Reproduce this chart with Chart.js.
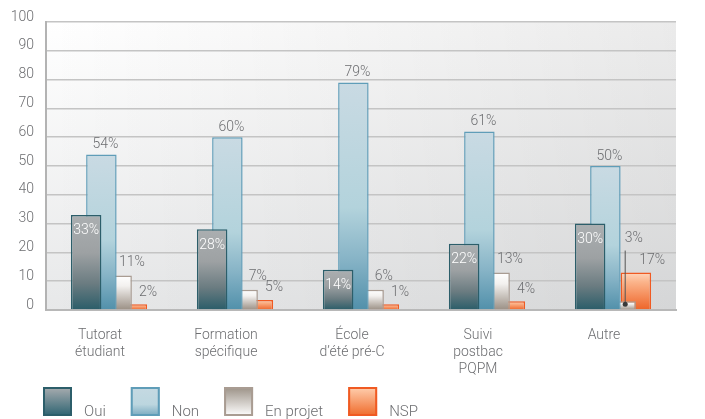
<!DOCTYPE html>
<html><head><meta charset="utf-8">
<script src="https://cdn.jsdelivr.net/npm/chart.js@4/dist/chart.umd.min.js"></script>
<style>html,body{margin:0;padding:0;background:#fff;}#wrap{width:705px;height:419px;position:relative;}</style>
</head><body><div id="wrap"><canvas id="c" width="705" height="419"></canvas></div>
<script>
// ---- data ----
const categories = [['Tutorat','étudiant'],['Formation','spécifique'],['École','d’été pré-C'],['Suivi','postbac','PQPM'],['Autre']];
const seriesNames = ['Oui','Non','En projet','NSP'];
const ouiValues = [33, 28, 14, 23, 30];
const nonValues = [54, 60, 79, 62, 50];
const enProjetValues = [12, 7, 7, 13, 3];
const nspValues = [2, 3.5, 2, 3, 13];
const ouiLabels = ['33%','28%','14%','22%','30%'];
const nonLabels = ['54%','60%','79%','61%','50%'];
const enProjetLabels = ['11%','7%','6%','13%','3%'];
const nspLabels = ['2%','5%','1%','4%','17%'];
const yTickValues = [0,10,20,30,40,50,60,70,80,90,100];

// ---- styles ----
const FONT = "Roboto, 'DejaVu Sans', sans-serif";
const GRAY = '#6d6e71';
const barStops = [
  [[0,'#abafb1'],[0.4,'#9da1a3'],[0.72,'#6b7c81'],[1,'#2a5d69']],
  [[0,'#c9dae3'],[0.55,'#b3d3dc'],[0.78,'#86b3c6'],[1,'#5190aa']],
  [[0,'#ffffff'],[0.3,'#f3f1ef'],[1,'#9a8f84']],
  [[0,'#ffd6bc'],[0.25,'#fbb48b'],[1,'#ee6428']]
];
const legendStops = [
  [[0,'#a9adb0'],[1,'#2d6371']],
  [[0,'#c5d9e2'],[0.6,'#bcd6df'],[1,'#78a9bf']],
  [[0,'#9b9186'],[1,'#ffffff']],
  [[0,'#ffd0b0'],[1,'#ef6a2a']]
];
const borderColors = ['#2c5e6a','#5f9db8','#a99c92','#f05a22'];

function barGradient(di){
  return function(c){
    const chart = c.chart;
    if (c.type !== 'data' || !chart.chartArea) return borderColors[di];
    const y = chart.scales.y;
    const top = y.getPixelForValue(c.raw);
    const bottom = y.getPixelForValue(0);
    const g = chart.ctx.createLinearGradient(0, top, 0, Math.max(bottom, top+1));
    barStops[di].forEach(s => g.addColorStop(s[0], s[1]));
    return g;
  };
}

const bgPlugin = {
  id:'plotBg',
  beforeDraw(chart){
    const {ctx, chartArea:a} = chart;
    ctx.save();
    let g = ctx.createLinearGradient(0, a.top, 0, a.bottom);
    g.addColorStop(0,'#ffffff'); g.addColorStop(1,'#e7e8e9');
    ctx.fillStyle = g; ctx.fillRect(a.left, a.top, a.right-a.left, a.bottom-a.top);
    g = ctx.createLinearGradient(a.left, 0, a.right, 0);
    g.addColorStop(0,'rgba(0,0,0,0)'); g.addColorStop(1,'rgba(0,0,0,0.08)');
    ctx.fillStyle = g; ctx.fillRect(a.left, a.top, a.right-a.left, a.bottom-a.top);
    ctx.restore();
  }
};

const labelPlugin = {
  id:'valueLabels',
  afterDatasetsDraw(chart){
    const ctx = chart.ctx;
    const sets = [ouiLabels, nonLabels, enProjetLabels, nspLabels];
    ctx.save();
    ctx.font = '300 14px ' + FONT;
    ctx.textAlign = 'center'; ctx.textBaseline = 'middle';
    chart.data.datasets.forEach((ds, di) => {
      const meta = chart.getDatasetMeta(di);
      meta.data.forEach((bar, i) => {
        const t = sets[di][i];
        const x = bar.x, top = bar.y, w = bar.width;
        if (di === 0) { ctx.fillStyle = '#ffffff'; ctx.fillText(t, x, top + 16); }
        else if (di === 1) { ctx.fillStyle = GRAY; ctx.fillText(t, x + 4, top - 10); }
        else if (di === 2) {
          ctx.fillStyle = GRAY;
          const nb = chart.getDatasetMeta(3).data[i];
          if (nb.y < top - 5) {
            const ty = nb.y - 34;
            ctx.fillText(t, x + w/2 - 2, ty);
            const lx = x + w*0.15;
            ctx.strokeStyle = '#555'; ctx.lineWidth = 1;
            ctx.beginPath(); ctx.moveTo(lx, ty + 12); ctx.lineTo(lx, bar.base - 5); ctx.stroke();
            ctx.fillStyle = '#3a3a3a';
            ctx.beginPath(); ctx.arc(lx, bar.base - 5, 2.5, 0, Math.PI*2); ctx.fill();
          } else {
            ctx.fillText(t, x + w/2, top - 13);
          }
        } else {
          ctx.fillStyle = GRAY; ctx.fillText(t, x + w/2 + 1, top - 12);
        }
      });
    });
    ctx.restore();
  }
};

const legendPlugin = {
  id:'customLegend',
  afterDraw(chart){
    const ctx = chart.ctx;
    const size = 29;
    const yTop = chart.height - 32;
    let x = chart.chartArea.left - 3;
    ctx.save();
    ctx.font = '300 15px ' + FONT;
    ctx.textAlign = 'left'; ctx.textBaseline = 'alphabetic';
    chart.data.datasets.forEach((ds, i) => {
      const g = ctx.createLinearGradient(0, yTop, 0, yTop + size);
      legendStops[i].forEach(s => g.addColorStop(s[0], s[1]));
      ctx.fillStyle = g; ctx.fillRect(x, yTop, size, size);
      ctx.strokeStyle = borderColors[i]; ctx.lineWidth = 2;
      ctx.strokeRect(x + 1, yTop + 1, size - 2, size - 2);
      ctx.fillStyle = GRAY;
      ctx.fillText(ds.label, x + size + 12, yTop + size);
      x += size + 12 + ctx.measureText(ds.label).width + 25;
    });
    ctx.restore();
  }
};

const seriesValues = [ouiValues, nonValues, enProjetValues, nspValues];
new Chart(document.getElementById('c'), {
  type:'bar',
  data:{
    labels: categories,
    datasets: seriesNames.map((n, di) => ({
      label: n,
      data: seriesValues[di],
      backgroundColor: barGradient(di),
      borderColor: borderColors[di],
      borderWidth: 1.5,
      barPercentage: 2.0,
      categoryPercentage: 0.484
    }))
  },
  options:{
    responsive:false,
    animation:false,
    devicePixelRatio:1,
    layout:{ padding:{ top:22, right:29, bottom:0, left:0 } },
    plugins:{ legend:{display:false}, tooltip:{enabled:false} },
    scales:{
      x:{
        grid:{ display:false },
        border:{ display:true, color:'#b8b8b8', width:2 },
        ticks:{ color:GRAY, font:{ size:14, family:FONT, weight:'300' }, padding:9, labelOffset:-9, maxRotation:0, autoSkip:false },
        afterFit(s){ s.height = 109; }
      },
      y:{
        min:0, max:100,
        afterBuildTicks(s){ s.ticks = yTickValues.map(v => ({value:v})); },
        grid:{ color:'#c4c4c4', lineWidth:1.5, drawTicks:false },
        border:{ display:true, color:'#b3b3b3', width:2 },
        ticks:{ color:GRAY, font:{ size:14, family:FONT, weight:'300' }, padding:12, labelOffset:-5 },
        afterFit(s){ s.width = 46; }
      }
    }
  },
  plugins:[bgPlugin, labelPlugin, legendPlugin]
});
</script></body></html>
